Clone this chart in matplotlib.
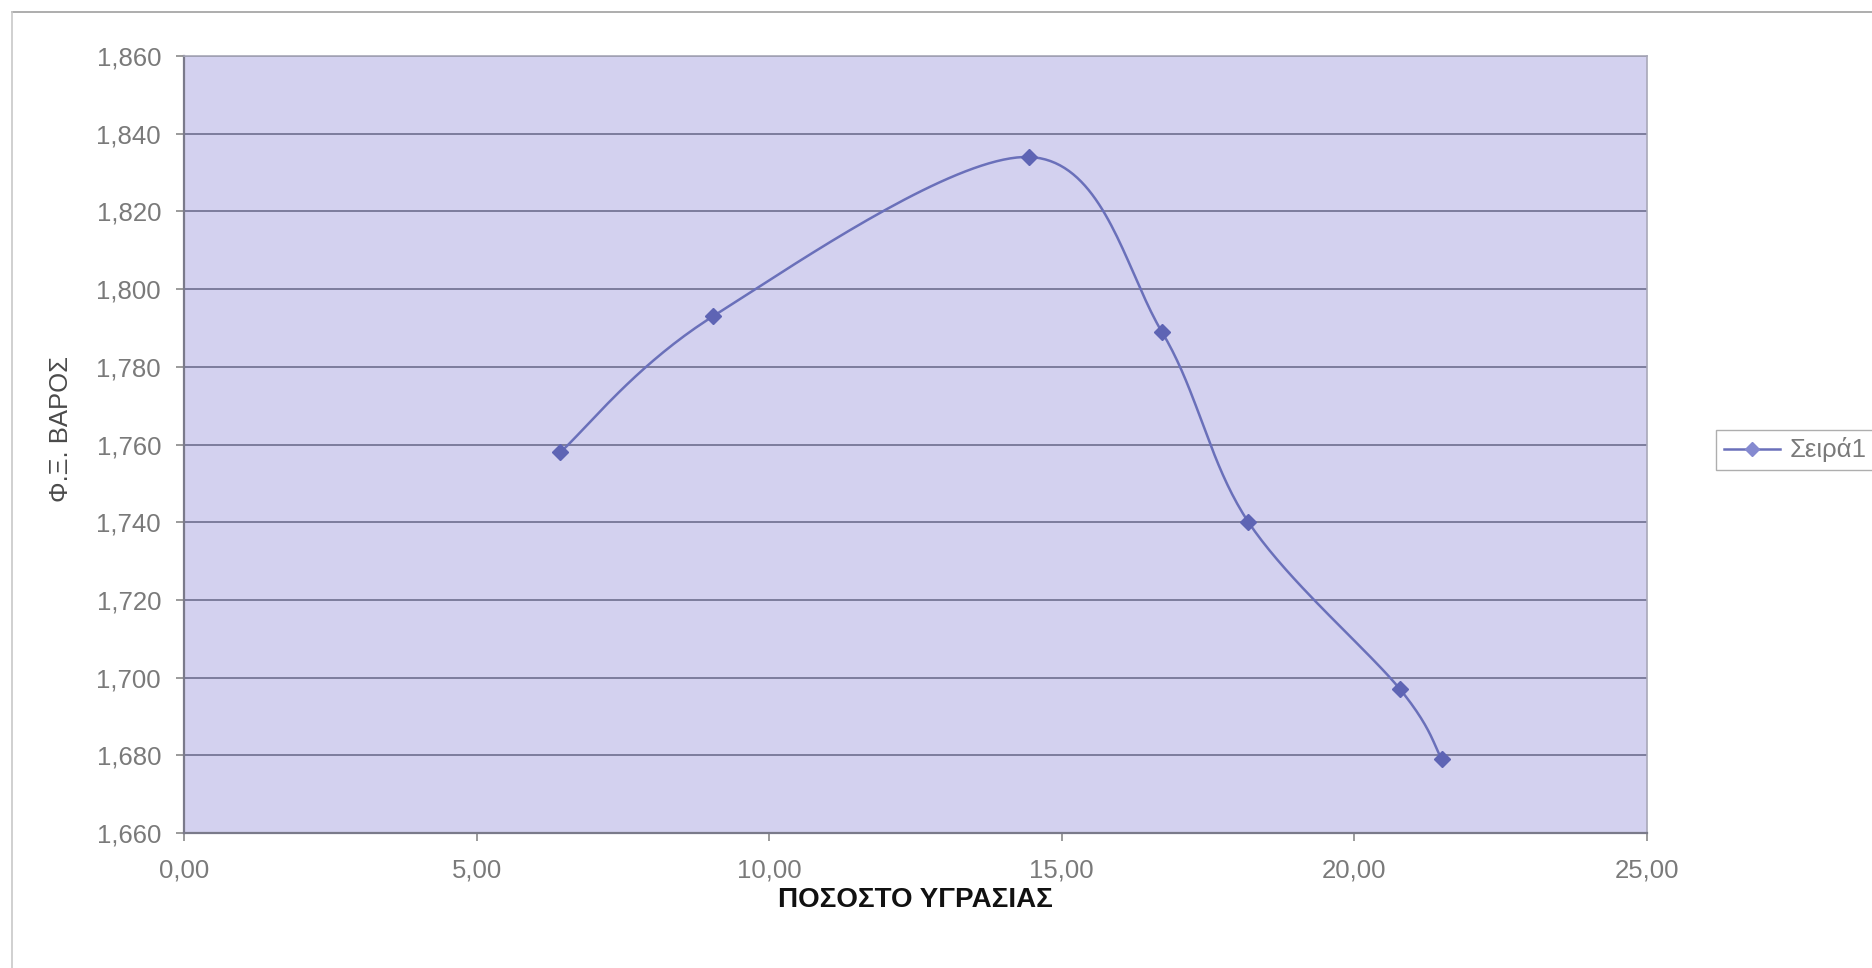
import matplotlib.pyplot as plt
import matplotlib.lines as mlines
from matplotlib.ticker import FuncFormatter
import numpy as np

plt.rcParams['font.family'] = ['Liberation Sans', 'DejaVu Sans']

# data
moisture = [6.43, 9.04, 14.44, 16.71, 18.19, 20.78, 21.49]
density = [1.758, 1.793, 1.834, 1.789, 1.740, 1.697, 1.679]
series_name = "Σειρά1"
x_label = "ΠΟΣΟΣΤΟ ΥΓΡΑΣΙΑΣ"
y_label = "Φ.Ξ. ΒΑΡΟΣ"


def smooth(xs, ys, n=40):
    # Catmull-Rom style smoothing like Excel's smoothed line
    pts = np.column_stack([xs, ys])
    pts = np.vstack([pts[0], pts, pts[-1]])
    out = []
    for i in range(1, len(pts) - 2):
        p0, p1, p2, p3 = pts[i - 1], pts[i], pts[i + 1], pts[i + 2]
        c1 = p1 + (p2 - p0) / 6
        c2 = p2 - (p3 - p1) / 6
        t = np.linspace(0, 1, n)[:, None]
        seg = ((1 - t) ** 3 * p1 + 3 * (1 - t) ** 2 * t * c1
               + 3 * (1 - t) * t ** 2 * c2 + t ** 3 * p2)
        out.append(seg)
    out = np.vstack(out)
    return out[:, 0], out[:, 1]


fig = plt.figure(figsize=(18.72, 9.68), dpi=100)
ax = fig.add_axes([184 / 1872, 1 - 833 / 968, (1647 - 184) / 1872, (833 - 56) / 968])
ax.set_facecolor('#D3D1EF')

line_color = '#6A70BA'
sx, sy = smooth(moisture, density)
ax.plot(sx, sy, color=line_color, lw=1.8, zorder=3)
ax.plot(moisture, density, linestyle='none', marker='D', ms=8, color='#5E64B4', zorder=4)

ax.set_xlim(0, 25)
ax.set_ylim(1.660, 1.860)
ax.set_xticks(np.arange(0, 25.1, 5))
ax.set_yticks(np.arange(1.660, 1.8601, 0.020))
ax.xaxis.set_major_formatter(FuncFormatter(lambda v, p: f"{v:.2f}".replace('.', ',')))
ax.yaxis.set_major_formatter(FuncFormatter(lambda v, p: f"{v:.3f}".replace('.', ',')))
ax.yaxis.grid(True, color='#7C7C9C', lw=1.4)
ax.set_axisbelow(True)
ax.tick_params(axis='both', labelsize=18.5, colors='#8A8A8A', labelcolor='#7A7A7A',
               length=5.5, width=1.2, direction='out')
ax.tick_params(axis='x', pad=13)
ax.tick_params(axis='y', pad=11)
for side in ['left', 'bottom']:
    ax.spines[side].set_color('#7A7A8A')
    ax.spines[side].set_linewidth(1.6)
for side in ['right', 'top']:
    ax.spines[side].set_color('#A8A8B8')
    ax.spines[side].set_linewidth(1.2)

ax.set_xlabel(x_label, fontsize=20, fontweight='bold', color='#111111')
ax.xaxis.set_label_coords(0.5, (833 - 900) / 777)
ax.xaxis.label.set_va('center')
ax.set_ylabel(y_label, fontsize=18.5, color='#4A4A4A')
ax.yaxis.set_label_coords((61 - 184) / 1463, 0.52)
ax.yaxis.label.set_va('center')

# chart area border (top and left)
fig.add_artist(mlines.Line2D([12 / 1872, 1], [1 - 12 / 968, 1 - 12 / 968],
                             color='#A0A0A0', lw=1.2))
fig.add_artist(mlines.Line2D([12 / 1872, 12 / 1872], [0, 1 - 12 / 968],
                             color='#C8C8C8', lw=1.2))

handle = mlines.Line2D([], [], color=line_color, marker='D', ms=7, lw=1.8,
                       markerfacecolor='#858AD0', markeredgecolor='#858AD0')
leg = fig.legend([handle], [series_name], loc='center left',
                 bbox_to_anchor=(1716 / 1872, 1 - 450 / 968), fontsize=18.5,
                 frameon=True, fancybox=False, handlelength=2.2, borderpad=0.3,
                 handletextpad=0.35, borderaxespad=0)
leg.get_frame().set_edgecolor('#9A9A9A')
leg.get_frame().set_linewidth(1.0)
for t in leg.get_texts():
    t.set_color('#7A7A7A')

fig.savefig('out.png', dpi=100)
